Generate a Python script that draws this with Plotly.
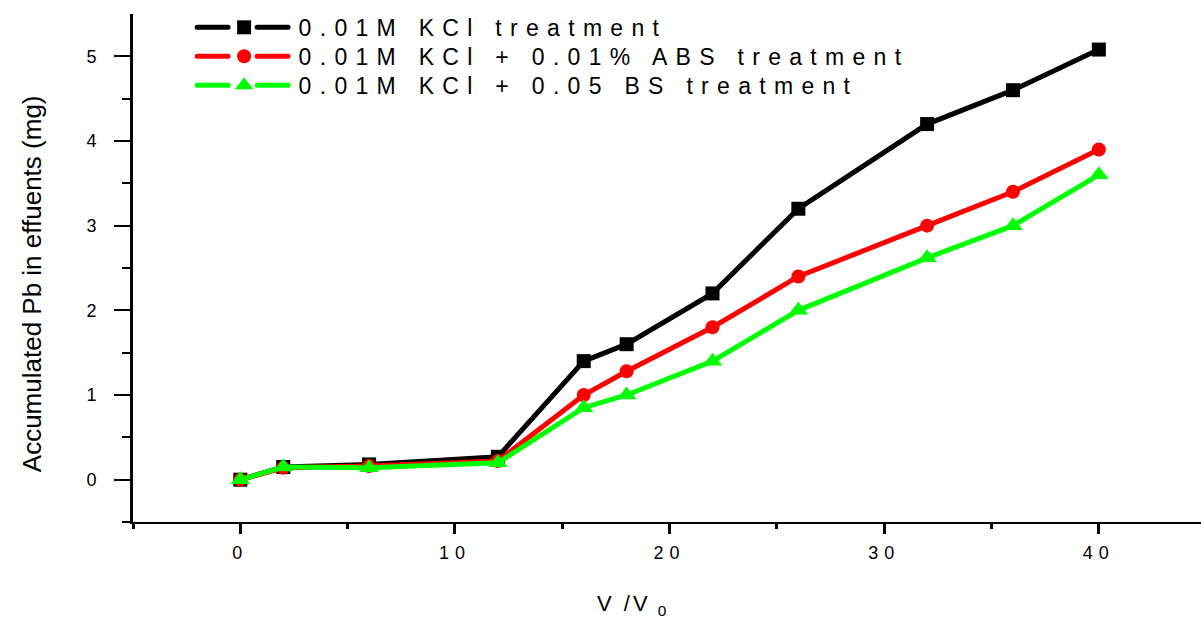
import plotly.graph_objects as go

# pore volumes (V/V0)
v_ratio = [0, 2, 6, 12, 16, 18, 22, 26, 32, 36, 40]

# accumulated Pb in effluents (mg)
pb_kcl = [0.0, 0.15, 0.18, 0.27, 1.40, 1.60, 2.20, 3.20, 4.20, 4.60, 5.08]
pb_kcl_abs = [0.0, 0.14, 0.16, 0.22, 1.00, 1.28, 1.80, 2.40, 3.00, 3.40, 3.90]
pb_kcl_bs = [0.0, 0.15, 0.14, 0.20, 0.85, 1.00, 1.40, 2.00, 2.62, 3.00, 3.60]

series_names = ["0.01M KCl treatment",
                "0.01M KCl + 0.01% ABS treatment",
                "0.01M KCl + 0.05 BS treatment"]
series_colors = ["#000000", "#ff0000", "#00ff00"]
series_symbols = ["square", "circle", "triangle-up"]
series_sizes = [14, 14, 17]

FONT = "Liberation Sans, Arial, sans-serif"

fig = go.Figure()
for name, ys, col, sym, sz in zip(series_names, [pb_kcl, pb_kcl_abs, pb_kcl_bs],
                                  series_colors, series_symbols, series_sizes):
    fig.add_trace(go.Scatter(
        x=v_ratio, y=ys, name=name, mode="lines+markers",
        line=dict(color=col, width=5),
        marker=dict(symbol=sym, size=sz, color=col),
        cliponaxis=False,
    ))

fig.update_layout(
    width=1201, height=618,
    margin=dict(l=133, r=0, t=14, b=96),
    plot_bgcolor="white", paper_bgcolor="white",
    font=dict(family=FONT, color="black"),
    showlegend=True,
    legend=dict(x=0.053, y=1.016, xanchor="left", yanchor="top",
                font=dict(size=23, family=FONT), bgcolor="rgba(0,0,0,0)",
                tracegroupgap=0, itemwidth=99),
)

fig.update_xaxes(
    range=[-5, 44.76], showgrid=False, zeroline=False,
    showline=True, linecolor="black", linewidth=2,
    tickmode="array", tickvals=[0, 10, 20, 30, 40],
    ticks="outside", ticklen=10, tickwidth=2.5, tickcolor="black",
    minor=dict(tickvals=[-5, 5, 15, 25, 35], ticks="outside", ticklen=5,
               tickwidth=2.5, tickcolor="black"),
    tickfont=dict(size=18, family=FONT),
    ticklabelstandoff=3,
)
fig.update_yaxes(
    range=[-0.5, 5.5], showgrid=False, zeroline=False,
    showline=True, linecolor="black", linewidth=3,
    tickmode="array", tickvals=[0, 1, 2, 3, 4, 5],
    ticks="outside", ticklen=16, tickwidth=2, tickcolor="black",
    minor=dict(tickvals=[-0.5, 0.5, 1.5, 2.5, 3.5, 4.5], ticks="outside",
               ticklen=8, tickwidth=2, tickcolor="black"),
    tickfont=dict(size=18, family=FONT),
    ticklabelstandoff=14,
)

# axis titles are placed off-centre in the original, so use annotations
fig.add_annotation(text="Accumulated Pb in effuents (mg)", textangle=-90,
                   xref="paper", yref="paper", x=-0.0946, y=0.47,
                   xanchor="center", yanchor="middle", showarrow=False,
                   font=dict(size=26, family=FONT))
fig.add_annotation(text="V /V<sub> 0</sub>", xref="x", yref="paper",
                   x=18.3, y=-0.132, yanchor="top", showarrow=False,
                   font=dict(size=22, family=FONT))

# wide letter tracking, tighter rows and broken legend samples as in the original print
spacing_js = """
document.body.style.margin = '0';
var gd = document.getElementById('{plot_id}');
function track() {
  gd.querySelectorAll('.legendtext').forEach(function(e){ e.style.letterSpacing = '8.3px'; });
  gd.querySelectorAll('.legend [clip-path]').forEach(function(e){ e.removeAttribute('clip-path'); });
  var items = gd.querySelectorAll('.legend .traces');
  if (items.length) {
    var m = /translate\\(([-\\d.]+)[ ,]+([-\\d.]+)\\)/.exec(items[0].getAttribute('transform') || '');
    if (m) {
      var x0 = parseFloat(m[1]), y0 = parseFloat(m[2]);
      items.forEach(function(g, i){ g.setAttribute('transform', 'translate(' + x0 + ',' + (y0 + 29 * i) + ')'); });
    }
  }
  gd.querySelectorAll('.legend .legendlines path').forEach(function(p){
    p.setAttribute('d', 'M7.5,0h31M67.5,0h31');
    p.style.setProperty('stroke-linecap', 'round', 'important');
  });
  gd.querySelectorAll('.xtick text').forEach(function(e){ e.style.letterSpacing = '6px'; });
  gd.querySelectorAll('.annotation-text').forEach(function(e){
    if (e.textContent.indexOf('V') === 0) { e.style.letterSpacing = '3px'; }
  });
}
track();
gd.on('plotly_afterplot', track);
"""

fig.write_html("out.html", post_script=spacing_js, config={"displayModeBar": False})
